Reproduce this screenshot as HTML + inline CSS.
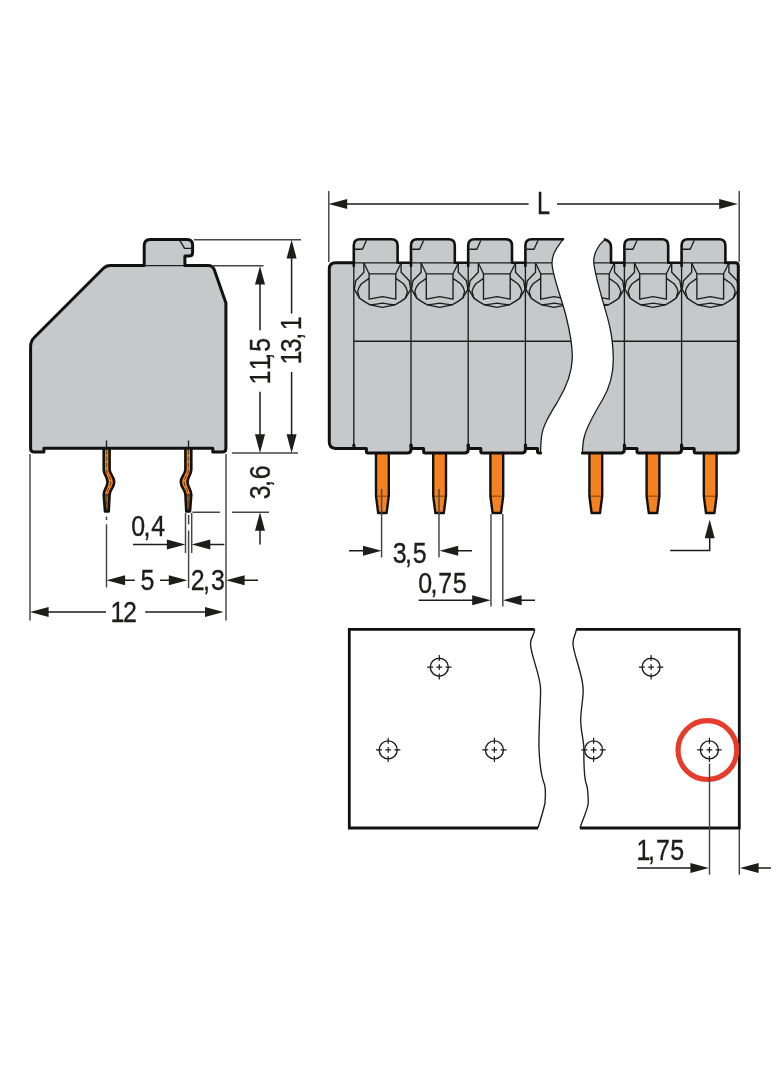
<!DOCTYPE html>
<html lang="en">
<head>
<meta charset="utf-8">
<title>Dimensions</title>
<style>
html,body{margin:0;padding:0;background:#fff;}
body{width:784px;height:1066px;overflow:hidden;}
svg{display:block;}
text{font-family:"Liberation Sans",sans-serif;font-size:30px;fill:#1d1d1b;stroke:#1d1d1b;stroke-width:0.35;}
.k{stroke:#111110;stroke-width:3;fill:none;stroke-linejoin:round;stroke-linecap:round;}
.t{stroke:#1d1d1b;stroke-width:1.35;fill:none;stroke-linejoin:round;stroke-linecap:butt;}
.e{stroke:#454544;stroke-width:1.45;fill:none;}
.d{stroke:#1d1d1b;stroke-width:1.5;fill:none;}
.a{fill:#1d1d1b;stroke:none;}
.g{fill:#c7c8ca;}
.o{fill:#f5821f;}
</style>
</head>
<body>
<svg style="will-change:transform" width="784" height="1066" viewBox="0 0 784 1066">
<rect width="784" height="1066" fill="#fff"/>
<defs>
<!-- arrow heads, tip at origin -->
<path id="aR" d="M0 0L-18.6 -5L-18.6 5Z"/>
<path id="aL" d="M0 0L18.6 -5L18.6 5Z"/>
<path id="aU" d="M0 0L-5 18.6L5 18.6Z"/>
<path id="aD" d="M0 0L-5 -18.6L5 -18.6Z"/>
<!-- PCB hole -->
<g id="hole" class="t">
<circle r="9" style="stroke-width:1.4"/>
<path style="stroke-width:1.2" d="M-12.2 0H-6.2M6.2 0H12.2M0 -12.2V-6.2M0 6.2V12.2M-2.9 0H2.9M0 -2.9V2.9"/>
</g>
<!-- front-view pin, centre x=0 -->
<g id="fpin">
<path class="o" d="M-6.4 453V496L-4.2 513H4.2L6.4 496V453Z"/>
<path class="t" style="stroke:#8a4a10;stroke-width:1.1" d="M-6 496.2H6"/>
<path class="k" style="stroke-width:2.4" d="M-6.4 453V496L-4.2 513H4.2L6.4 496V453"/>
</g>
<!-- front-view module details, left divider x=0 -->
<g id="mod" class="t">
<path d="M1.2 249.2H8.6L12.6 240.5"/>
<path d="M10.1 263V272.2L1.9 280.8L0.5 289.4L5.7 298.1Q10.5 301.8 16.3 304.8L28.7 307.4L41.1 304.8Q46.9 301.8 51.7 298.1L56.9 289.4L55.5 280.8L47.3 272.2V263"/>
<path d="M10.1 263L15.3 273.8H42L47.3 263"/>
<path d="M15.3 273.8V299.2L28.7 296.6L42 299.2V273.8"/>
<path d="M15.3 278.4L7.7 283.7Q4.6 287.4 3.8 291.4L5.7 298.1"/>
<path d="M42 278.4L49.7 283.7Q52.8 287.4 53.6 291.4L51.7 298.1"/>
<path d="M16.3 304.8Q22.5 304.6 28.7 303.2Q34.9 304.6 41.1 304.8"/>
</g>
<clipPath id="cl"><path d="M520 230H563C556 248.5 552 255 552 262.8C552 275 561 296 566 316C570 332 572.5 345 572.3 358V460H520Z"/></clipPath>
<clipPath id="cr"><path d="M630 230H605C598 245 593.5 254 593.7 262C594.5 272 600 291 602.9 301.6C605 309 608 318 610 328H630Z"/></clipPath>
</defs>

<!-- ===== SIDE VIEW ===== -->
<g id="side">
<path class="g" d="M30.6 449V346.6Q30.6 341.2 34.5 337.3L103.2 268.5Q106.2 265.5 110.2 265.5H144.2V245.6Q144.2 239.5 150.3 239.5H187Q192.6 239.5 192.6 245.1V252.6Q192.6 256 189.2 256H184.9V265.5H208.2Q212.6 265.5 214.2 269.6L225.9 302.9V448.5Q225.9 452 222.4 452H212.8V448.2H43.9V452H34.1Q30.6 452 30.6 448.5Z"/>
<path class="t" d="M179.6 240.2L184.6 248.4H191.6"/>
<path class="t" d="M144.2 265.6H185"/>
<path class="t" d="M106.5 440.5V448M188.5 440.5V448"/>
<!-- pins -->
<g id="spin1">
<path class="o" d="M103.7 449V469.5C103.7 474.5 107.5 477 107.5 482C107.5 487 103.7 489.5 103.7 494.5L105 511.4H108.7L109.6 494.5C109.6 490 114.2 487.5 114.2 482C114.2 476.5 109.6 474 109.6 469.5V449Z"/>
<path d="M103.7 494.5L105 511.4H108.7L109.6 494.5Z" fill="#a8621e"/>
<path class="t" style="stroke:#3a2410;stroke-width:1" d="M103.7 494.8H109.6"/>
<path class="t" style="stroke-width:0.9;stroke:#5a3410" stroke-dasharray="4.5 2" d="M106.65 450V470C106.65 475 110.85 477 110.85 482C110.85 487 106.65 489.5 106.65 494.5V511"/>
<path class="k" style="stroke-width:2.6" d="M103.7 449V469.5C103.7 474.5 107.5 477 107.5 482C107.5 487 103.7 489.5 103.7 494.5L105 511.4H108.7L109.6 494.5C109.6 490 114.2 487.5 114.2 482C114.2 476.5 109.6 474 109.6 469.5V449"/>
</g>
<use href="#spin1" transform="translate(295 0) scale(-1 1)"/>
<path class="k" d="M30.6 449V346.6Q30.6 341.2 34.5 337.3L103.2 268.5Q106.2 265.5 110.2 265.5H144.2V245.6Q144.2 239.5 150.3 239.5H187Q192.6 239.5 192.6 245.1V252.6Q192.6 256 189.2 256H184.9V265.5H208.2Q212.6 265.5 214.2 269.6L225.9 302.9V448.5Q225.9 452 222.4 452H212.8V448.2H43.9V452H34.1Q30.6 452 30.6 448.5Z"/>
</g>

<!-- ===== FRONT VIEW ===== -->
<g id="front">
<!-- left part fill -->
<path class="g" d="M329.3 442.1V269.1Q329.3 262.8 335.6 262.8H353.8V245.5Q353.8 239.3 360.0 239.3H391.4Q397.6 239.3 397.6 245.5V262.8H411V245.5Q411.0 239.3 417.2 239.3H448.6Q454.8 239.3 454.8 245.5V262.8H468.2V245.5Q468.2 239.3 474.4 239.3H505.8Q512.0 239.3 512.0 245.5V262.8H525.4V245.5Q525.4 239.3 531.6 239.3H563C556 248.5 552 255 552 262.8C552 275 561 296 566 316C570 332 572.5 345 572.3 358C572 371 567 386 558 401C550 414 543 425 541.6 436C540.8 442 540.6 448 540.6 453H537.5V448.4H525.4V453H480.8V448.4H468.2V453H423.6V448.4H411V453H366.4V448.4H335.6Q329.3 448.4 329.3 442.1Z"/>
<!-- right part fill -->
<path class="g" d="M605 239.4Q611 241 611 247V262.8H624.4V245.5Q624.4 239.3 630.6 239.3H662.0Q668.2 239.3 668.2 245.5V262.8H681.6V245.5Q681.6 239.3 687.8 239.3H719.2Q725.4 239.3 725.4 245.5V262.8H738.3V453H694.2V448.4H681.6V453H637V448.4H624.4V453H582.4C582.6 447 583 441 584.5 436C587 426 594 414 602.9 399C610 387 613.5 372 613.3 358C613 345 612 337 610 328C608 318 605 309 602.9 301.6C600 291 594.5 272 593.7 262C593.5 254 598 245 605 239.4Z"/>
<!-- pins -->
<use href="#fpin" x="382.4"/>
<use href="#fpin" x="439.6"/>
<use href="#fpin" x="496.8"/>
<use href="#fpin" x="595.8"/>
<use href="#fpin" x="653"/>
<use href="#fpin" x="710.2"/>
<!-- thin lines -->
<path class="t" d="M353.8 262.8V447M411 262.8V447M468.2 262.8V447M525.4 262.8V447M624.4 262.8V447M681.6 262.8V447"/>
<path class="t" d="M353.8 262.9H552M593.7 262.9H738M353.8 341.2H571M612.5 341.2H737"/>
<use href="#mod" x="353.8"/>
<use href="#mod" x="411"/>
<use href="#mod" x="468.2"/>
<g clip-path="url(#cl)"><use href="#mod" x="525.4"/></g>
<g clip-path="url(#cr)"><use href="#mod" x="567.2"/></g>
<use href="#mod" x="624.4"/>
<use href="#mod" x="681.6"/>
<!-- break curves -->
<path class="t" style="stroke-width:1.3" d="M563 239.3C556 248.5 552 255 552 262.8C552 275 561 296 566 316C570 332 572.5 345 572.3 358C572 371 567 386 558 401C550 414 543 425 541.6 436C540.8 442 540.6 448 540.6 453"/>
<path class="t" style="stroke-width:1.3" d="M582.4 453C582.6 447 583 441 584.5 436C587 426 594 414 602.9 399C610 387 613.5 372 613.3 358C613 345 612 337 610 328C608 318 605 309 602.9 301.6C600 291 594.5 272 593.7 262C593.5 254 598 245 605 239.4"/>
<!-- thick outline -->
<path class="k" d="M353.8 448.4H335.6Q329.3 448.4 329.3 442.1V269.1Q329.3 262.8 335.6 262.8H353.8"/>
<path class="k" style="stroke-width:2.6" d="M353.8 266V245.5Q353.8 239.3 360.0 239.3H391.4Q397.6 239.3 397.6 245.5V262.8H411"/>
<path class="k" style="stroke-width:2.6" d="M411 266V245.5Q411.0 239.3 417.2 239.3H448.6Q454.8 239.3 454.8 245.5V262.8H468.2"/>
<path class="k" style="stroke-width:2.6" d="M468.2 266V245.5Q468.2 239.3 474.4 239.3H505.8Q512.0 239.3 512.0 245.5V262.8H525.4"/>
<path class="k" style="stroke-width:2.6" d="M525.4 266V245.5Q525.4 239.3 531.6 239.3H563"/>
<path class="k" style="stroke-width:2.6" d="M605 239.4Q611 241 611 247V262.8H624.4"/>
<path class="k" style="stroke-width:2.6" d="M624.4 266V245.5Q624.4 239.3 630.6 239.3H662.0Q668.2 239.3 668.2 245.5V262.8H681.6"/>
<path class="k" style="stroke-width:2.6" d="M681.6 266V245.5Q681.6 239.3 687.8 239.3H719.2Q725.4 239.3 725.4 245.5V262.8"/>
<path class="k" d="M725.4 262.8H735.3Q738.3 262.8 738.3 265.8V449.5Q738.3 453 734.8 453H695.7Q694.2 453 694.2 451.5V448.4H683.6Q681.6 448.4 681.6 445"/>
<path class="k" d="M353.8 445Q353.8 448.4 355.8 448.4H366.4V451.5Q366.4 453 367.9 453H407.5Q411 453 411 449.5V445"/>
<path class="k" d="M411 445Q411 448.4 413 448.4H423.6V451.5Q423.6 453 425.1 453H464.7Q468.2 453 468.2 449.5V445"/>
<path class="k" d="M468.2 445Q468.2 448.4 470.2 448.4H480.8V451.5Q480.8 453 482.3 453H521.9Q525.4 453 525.4 449.5V445"/>
<path class="k" d="M525.4 445Q525.4 448.4 527.4 448.4H537.5V451.5Q537.5 453 539 453H540.6"/>
<path class="k" d="M582.4 453H620.9Q624.4 453 624.4 449.5V445"/>
<path class="k" d="M624.4 445Q624.4 448.4 626.4 448.4H637V451.5Q637 453 638.5 453H678.1Q681.6 453 681.6 449.5V445"/>
</g>
<!-- front dims -->
<g id="fdim">
<path class="e" d="M328.8 191V262M739.2 191V262"/>
<path class="d" d="M346 204H528.6M557 204H722"/>
<use class="a" href="#aL" x="328.6" y="204"/>
<use class="a" href="#aR" x="737.8" y="204"/>
<text transform="translate(537 213.7) scale(0.76 1)" style="font-size:31px">L</text>
<path class="e" d="M381.6 489V557.5M439 489V557.5M491 514V606.5M502.8 514V606.5"/>
<path class="d" d="M349 550.8H364M457 550.8H472M418.6 600.2H474M520 600.2H535"/>
<use class="a" href="#aR" x="381.6" y="550.8"/>
<use class="a" href="#aL" x="439.6" y="550.8"/>
<use class="a" href="#aR" x="490.8" y="600.2"/>
<use class="a" href="#aL" x="503" y="600.2"/>
<text transform="translate(392.5 563) scale(0.832 1)" x="0.23 14.99 24.48">3,5</text>
<text transform="translate(418 592.6) scale(0.832 1)" x="0.23 14.99 24.48 41.63">0,75</text>
<path class="d" d="M670.2 550.5H709.7V536"/>
<use class="a" href="#aU" x="709.7" y="519.6"/>
</g>

<!-- ===== PCB LAYOUT ===== -->
<g id="pcb">
<path class="k" style="stroke-linejoin:miter;stroke-linecap:butt;stroke-width:2.8" d="M534.5 629.3H349.3V828H538"/>
<path class="k" style="stroke-linejoin:miter;stroke-linecap:butt;stroke-width:2.8" d="M576.1 629.3H739.3V828H580"/>
<path class="t" d="M534.5 629.3C535.5 633 530.5 637 530.5 643.7C530.5 655 540.6 675 540.6 689.6C540.6 705 538.5 730 539 747.7C539.5 762 541 775 544 783C546.5 789 545 798 545 803C543.5 810 540.5 820 538 828"/>
<path class="t" d="M576.1 629.3C577 633 572.5 637 573 643.7C573.5 655 583.2 675 583.2 690C583.2 700 580.7 710 580.7 720C580.7 730 583.3 738 583.8 747C584 762 583.5 775 586 783C588.5 789 588 798 588.3 803C587.5 810 582.5 820 580 828"/>
<use href="#hole" x="439.3" y="667.2"/>
<use href="#hole" x="388.2" y="749.9"/>
<use href="#hole" x="494.4" y="749.9"/>
<use href="#hole" x="651.1" y="667.2"/>
<use href="#hole" x="593.6" y="749.9"/>
<use href="#hole" x="709.4" y="749.9"/>
<circle cx="707.4" cy="750.1" r="29.4" fill="none" stroke="#e63c2b" stroke-width="5.2"/>
<path class="e" d="M709.5 763.5V874.8M739.3 829V874.8"/>
<path class="d" d="M637 868H692M757 868H771"/>
<use class="a" href="#aR" x="709" y="868"/>
<use class="a" href="#aL" x="740" y="868"/>
<text transform="translate(635.6 860.4) scale(0.832 1)" x="0.95 14.99 24.48 41.63">1,75</text>
</g>
<!-- side view dimensions -->
<g id="sdim">
<path class="e" d="M30 454V620.5M226 454V620.5"/>
<path class="e" d="M194 239.8H301M212 265.8H263.5M232 452.9H298"/>
<path class="e" d="M192.5 512.2H219.8M232 512.2H269"/>
<path class="e" d="M106.5 516.5V520M106.5 524.3V587.5M188.6 515V524.5M188.6 530.5V588M185.5 513V553M191.7 513V553"/>
<!-- 11,5 -->
<path class="d" d="M260 284V330.2M260 391.8V436"/>
<use class="a" href="#aU" x="260" y="266"/>
<use class="a" href="#aD" x="260" y="452.9"/>
<!-- 13,1 -->
<path class="d" d="M291.6 257V313.5M291.6 372V436"/>
<use class="a" href="#aU" x="291.6" y="239.8"/>
<use class="a" href="#aD" x="291.6" y="452.9"/>
<!-- 3,6 -->
<path class="d" d="M260 530V544.5"/>
<use class="a" href="#aU" x="260" y="512.2"/>
<!-- 0,4 -->
<path class="d" d="M133 544.5H168M209 544.5H224.3"/>
<use class="a" href="#aR" x="185.5" y="544.5"/>
<use class="a" href="#aL" x="191.7" y="544.5"/>
<!-- 5 / 2,3 -->
<path class="d" d="M124 580.3H134.8M160 580.3H171M243 580.3H258"/>
<use class="a" href="#aL" x="106.5" y="580.3"/>
<use class="a" href="#aR" x="187.4" y="580.3"/>
<use class="a" href="#aL" x="226" y="580.3"/>
<!-- 12 -->
<path class="d" d="M47 612H106M145.2 612H208"/>
<use class="a" href="#aL" x="30" y="612"/>
<use class="a" href="#aR" x="223.6" y="612"/>
<text transform="translate(270.3 386.5) rotate(-90) scale(0.832 1)" x="2.40 19.55 32.14 41.63">11,5</text>
<text transform="translate(300.7 366.6) rotate(-90) scale(0.832 1)" x="2.40 17.38 32.14 43.79">13,1</text>
<text transform="translate(269.8 499.5) rotate(-90) scale(0.832 1)" x="0.23 14.99 24.48">3,6</text>
<text transform="translate(131 536.4) scale(0.832 1)" x="0.23 14.99 24.48">0,4</text>
<text transform="translate(140.5 590.2) scale(0.832 1)">5</text>
<text transform="translate(190.6 590.2) scale(0.832 1)" x="0.23 14.99 24.48">2,3</text>
<text transform="translate(108.6 621.9) scale(0.832 1)" x="2.40 17.38">12</text>
</g>
</svg>
</body>
</html>
